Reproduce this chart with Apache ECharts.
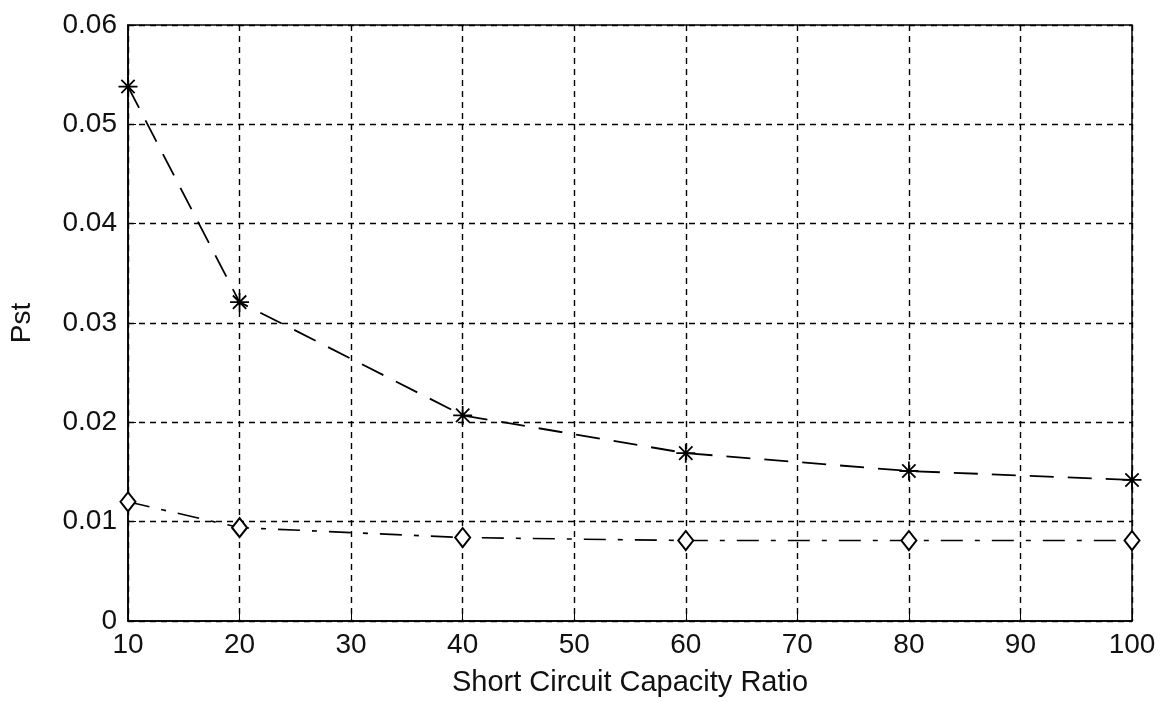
<!DOCTYPE html>
<html>
<head>
<meta charset="utf-8">
<title>Pst vs Short Circuit Capacity Ratio</title>
<script src="https://cdn.jsdelivr.net/npm/echarts@6/dist/echarts.min.js"></script>
<style>
  html, body { margin: 0; padding: 0; background: #fff; }
  #main { width: 1160px; height: 702px; }
</style>
</head>
<body>
<div id="main"></div>
<script>
// values
var ratios = [10, 20, 40, 60, 80, 100]
var pstStar = [0.0538, 0.0321, 0.0207, 0.0169, 0.0151, 0.0142]
var pstDiamond = [0.0120, 0.0094, 0.0084, 0.0081, 0.0081, 0.0081]
var xTicks = [10, 20, 30, 40, 50, 60, 70, 80, 90, 100]
var yTicks = [0, 0.01, 0.02, 0.03, 0.04, 0.05, 0.06]

var font = 'Liberation Sans, Arial, sans-serif'
var asterisk = 'path://M0,-10L0,10M-10,0L10,0M-7,-7L7,7M-7,7L7,-7'

function pairs(xs, ys) {
  return xs.map(function(x, i) { return [x, ys[i]] })
}

var chart = echarts.init(document.getElementById('main'), null, { renderer: 'canvas' })

var option = {
  backgroundColor: '#fff',
  animation: false,
  grid: {
    left: 128,
    right: 28,
    top: 25,
    bottom: 81,
    show: true,
    borderColor: '#000',
    borderWidth: 1.5,
    backgroundColor: 'transparent'
  },
  xAxis: {
    type: 'value',
    min: xTicks[0],
    max: xTicks[xTicks.length - 1],
    interval: 10,
    name: 'Short Circuit Capacity Ratio',
    nameLocation: 'middle',
    nameGap: 47,
    nameTextStyle: { fontFamily: font, fontSize: 29, color: '#111' },
    axisLine: { show: true, lineStyle: { color: '#000', width: 1.5 } },
    axisTick: { show: true, inside: true, length: 8, lineStyle: { color: '#000' } },
    axisLabel: { fontFamily: font, fontSize: 28, color: '#111', margin: 10 },
    splitLine: { show: true, lineStyle: { color: '#000', type: [6, 5], width: 1.4 } }
  },
  yAxis: {
    type: 'value',
    min: yTicks[0],
    max: yTicks[yTicks.length - 1],
    interval: 0.01,
    name: 'Pst',
    nameLocation: 'middle',
    nameGap: 92,
    nameTextStyle: { fontFamily: font, fontSize: 28, color: '#111' },
    axisLine: { show: true, lineStyle: { color: '#000', width: 1.5 } },
    axisTick: { show: true, inside: true, length: 8, lineStyle: { color: '#000' } },
    axisLabel: {
      fontFamily: font,
      fontSize: 28,
      color: '#111',
      margin: 11,
      formatter: function(v) {
        return v === 0 ? '0' : v.toFixed(2)
      }
    },
    splitLine: { show: true, lineStyle: { color: '#000', type: [6, 5], width: 1.4 } }
  },
  series: [
    {
      name: 'star',
      type: 'line',
      data: pairs(ratios, pstStar),
      symbol: asterisk,
      symbolSize: 19,
      lineStyle: { color: '#000', width: 1.8, type: [24, 14] },
      itemStyle: { color: '#000', borderColor: '#000', borderWidth: 1.8 },
      z: 5
    },
    {
      name: 'diamond',
      type: 'line',
      data: pairs(ratios, pstDiamond),
      symbol: 'emptyDiamond',
      symbolSize: [15, 19],
      lineStyle: { color: '#000', width: 1.6, type: [22, 12, 5, 12] },
      itemStyle: { color: '#000', borderColor: '#000', borderWidth: 1.2 },
      z: 5
    }
  ]
}

chart.setOption(option)
</script>
</body>
</html>
